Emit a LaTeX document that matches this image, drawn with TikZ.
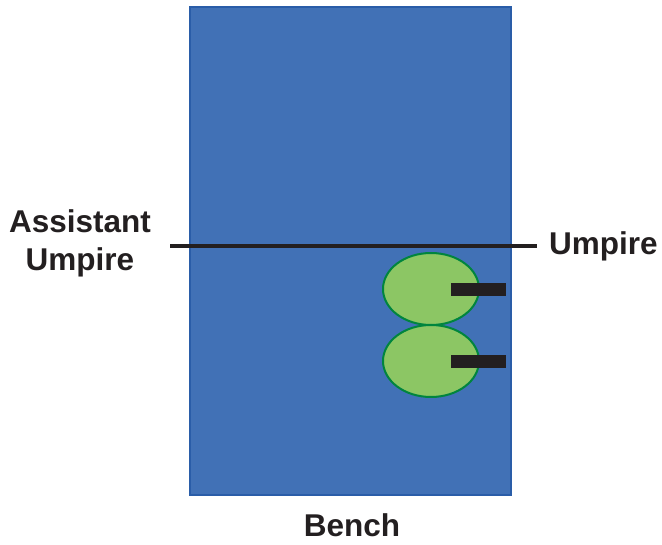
\documentclass[tikz,border=0pt]{standalone}
\usepackage{fontspec}
\setmainfont{Liberation Sans}
\usetikzlibrary{shapes.geometric}
\definecolor{court}{HTML}{4171B6}
\definecolor{courtedge}{HTML}{2A5DA8}
\definecolor{chair}{HTML}{8CC664}
\definecolor{chairedge}{HTML}{00853E}
\definecolor{ink}{HTML}{231F20}
\begin{document}
\begin{tikzpicture}[x=1pt,y=-1pt,
  lbl/.style={font=\fontsize{31.5}{38}\selectfont\bfseries, text=ink, inner sep=0pt, align=center},
  seat/.style={ellipse, draw=chairedge, line width=2pt, fill=chair, minimum width=96pt, minimum height=72pt, inner sep=0pt},
  bar/.style={fill=ink, draw=none, minimum width=55pt, minimum height=13pt, inner sep=0pt}]
\useasboundingbox (0,0) rectangle (662,545);
\node[draw=courtedge, line width=1.5pt, fill=court, minimum width=321pt, minimum height=488pt, inner sep=0pt] (court) at (350.5,251) {};
\coordinate (netL) at (170,246);
\coordinate (netR) at (537,246);
\draw[ink, line width=4.5pt] (netL) -- (netR);
\node[seat] (seat1) at (431,289) {};
\node[seat] (seat2) at (431,361) {};
\node[bar] (bar1) at (478.5,289.5) {};
\node[bar] (bar2) at (478.5,361.5) {};
\node[lbl] (au) at (80,243) {Assistant\\Umpire};
\node[lbl, anchor=west] (ump) at (549,246) {Umpire};
\node[lbl] (bench) at (352,525) {Bench};
\end{tikzpicture}
\end{document}
